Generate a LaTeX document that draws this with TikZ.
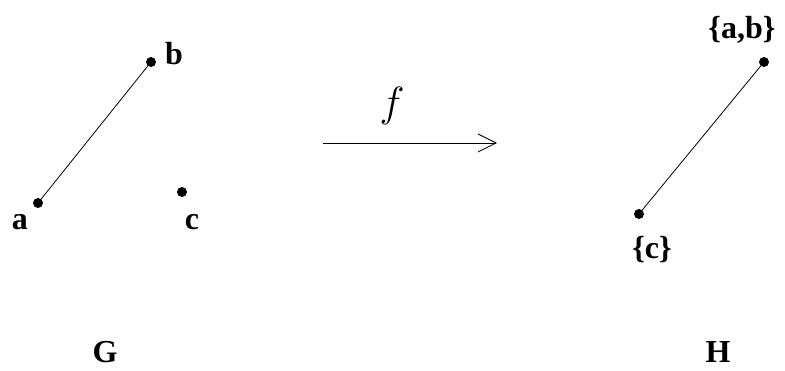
\documentclass[tikz,border=0pt]{standalone}
\usepackage{fontspec}
\setmainfont{Liberation Serif}
\usetikzlibrary{arrows.meta,positioning}
\tikzset{
  punto/.style    = {circle, fill=black, inner sep=0pt, minimum size=10pt},
  etiq/.style     = {font=\fontsize{32}{34}\selectfont\bfseries, inner sep=0pt},
  arista/.style   = {line width=0.8pt},
  flecha/.style   = {-{Straight Barb[length=18pt,width=18pt,line width=0.8pt]}, line width=0.9pt},
}

\begin{document}
\begin{tikzpicture}[x=1pt,y=-1pt]
  \useasboundingbox (0,0) rectangle (785,371);
  % grafo G
  \node[punto] (a) at (38,203) {};
  \node[punto] (b) at (151,62) {};
  \node[punto] (c) at (182,192) {};
  \draw[arista] (a) -- (b);
  \node[etiq] (la) at (20,222) {a};
  \node[etiq] (lb) at (174,54) {b};
  \node[etiq] (lc) at (192,222) {c};
  \node[etiq] (G) at (105,352) {G};
  % aplicacion f
  \coordinate (p) at (323,143);
  \coordinate (q) at (497,143);
  \draw[flecha] (p) -- (q);
  \node[font=\Huge, inner sep=0pt] (f) at (392,106) {\scalebox{1.7}{$f$}};
  % grafo H
  \node[punto] (ab) at (764,62) {};
  \node[punto] (cc) at (639,214) {};
  \draw[arista] (cc) -- (ab);
  \node[etiq] (lab) at (742,30) {\{a,b\}};
  \node[etiq] (lcc) at (652,250) {\{c\}};
  \node[etiq] (H) at (718,352) {H};
\end{tikzpicture}
\end{document}
